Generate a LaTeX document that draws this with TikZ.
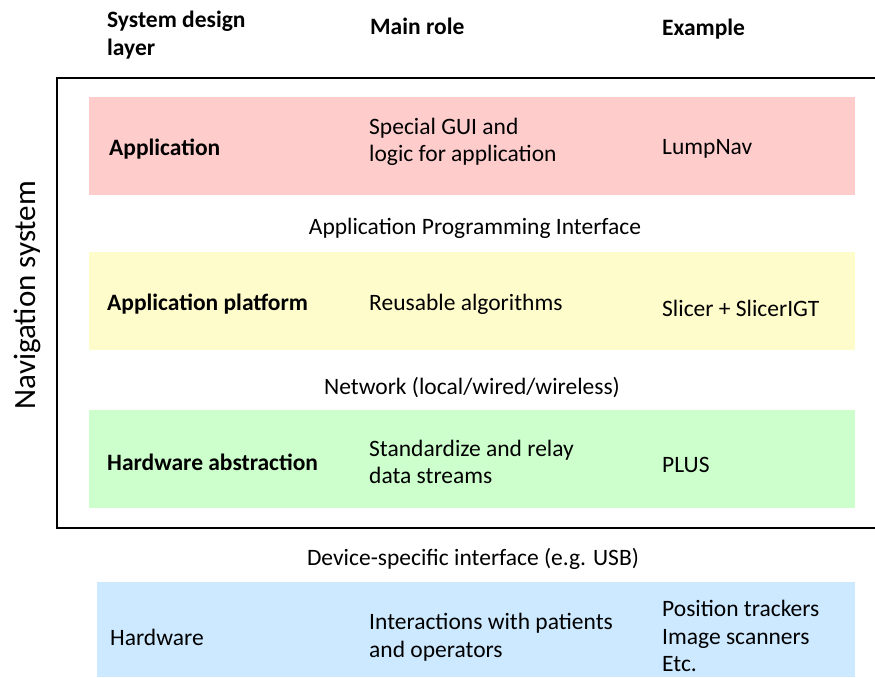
\documentclass[tikz,border=0pt]{standalone}
\usepackage{fontspec}
\setmainfont{Carlito}
\begin{document}
\begin{tikzpicture}[x=1pt,y=-1pt,
  txt/.style={anchor=west,inner sep=0pt,font=\fontsize{23.5}{27.5}\selectfont,align=left},
  btxt/.style={txt,font=\fontsize{23.5}{27.5}\selectfont\bfseries},
  hdr/.style={txt,font=\fontsize{23.5}{27.5}\selectfont\bfseries},
  mid/.style={inner sep=0pt,font=\fontsize{23.5}{27.5}\selectfont}]
\useasboundingbox (0,0) rectangle (875,677);
% column headers
\node[hdr] (h1) at (107,35) {System design\\layer};
\node[hdr] (h2) at (370,26) {Main role};
\node[hdr] (h3) at (662,29) {Example};
% navigation system frame (open to the right)
\draw[line width=1.6pt] (880,78) -- (57,78) -- (57,528) -- (880,528);
\node[rotate=90,inner sep=0pt,font=\fontsize{31}{34}\selectfont] (nav) at (27,295) {Navigation system};
% layers
\fill[red!20] (89,97) rectangle (855,195);
\fill[yellow!20] (89,252) rectangle (855,350);
\fill[green!20] (89,410) rectangle (855,508);
\fill[fill={rgb,255:red,204;green,233;blue,255}] (97,582) rectangle (855,677);
% application layer
\node[btxt] (a1) at (109,149) {Application};
\node[txt] (a2) at (369,142) {Special GUI and\\logic for application};
\node[txt] (a3) at (662,149) {LumpNav};
\node[mid] (i1) at (475,228) {Application Programming Interface};
% application platform
\node[btxt] (p1) at (107,304) {Application platform};
\node[txt] (p2) at (369,304) {Reusable algorithms};
\node[txt] (p3) at (662,308) {Slicer + SlicerIGT};
\node[mid] (i2) at (472,388) {Network (local/wired/wireless)};
% hardware abstraction
\node[btxt] (w1) at (107,462) {Hardware abstraction};
\node[txt] (w2) at (369,462) {Standardize and relay\\data streams};
\node[txt] (w3) at (662,465) {PLUS};
\node[mid] (i3) at (473,559) {Device-specific interface (e.g. USB)};
% hardware
\node[txt] (d1) at (110,637) {Hardware};
\node[txt] (d2) at (369,637) {Interactions with patients\\and operators};
\node[txt] (d3) at (662,636) {Position trackers\\Image scanners\\Etc.};
\end{tikzpicture}
\end{document}
